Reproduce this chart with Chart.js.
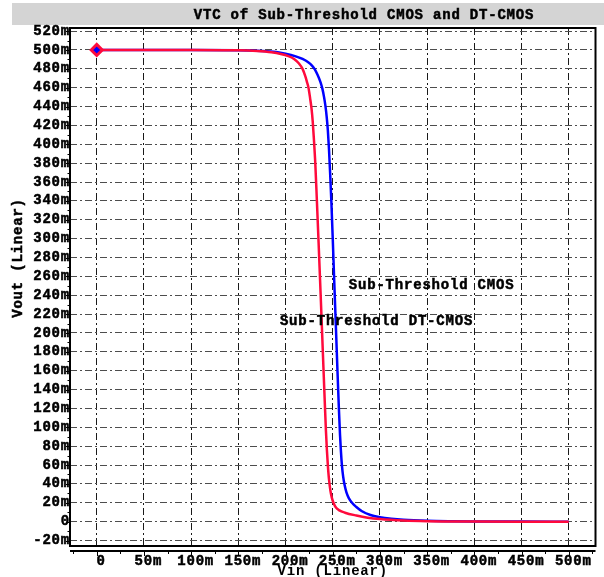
<!DOCTYPE html>
<html>
<head>
<meta charset="utf-8">
<script src="https://cdn.jsdelivr.net/npm/chart.js@4/dist/chart.umd.min.js"></script>
<style>
  html, body { margin: 0; padding: 0; background: #fff; }
  canvas { display: block; }
</style>
</head>
<body>
<canvas id="vtc" width="604" height="577"></canvas>
<script>
// Text drawn on the chart
const titleText = 'VTC of Sub-Threshold CMOS and DT-CMOS';
const xAxisTitle = 'Vin (Linear)';
const yAxisTitle = 'Vout (Linear)';
const labelCmos = 'Sub-Threshold CMOS';
const labelDtCmos = 'Sub-Threshold DT-CMOS';

// Axis ticks (values in mV)
const xTickValues = [0, 50, 100, 150, 200, 250, 300, 350, 400, 450, 500];
const xTickLabels = ['0', '50m', '100m', '150m', '200m', '250m', '300m', '350m', '400m', '450m', '500m'];
const yTickValues = [-20, 0, 20, 40, 60, 80, 100, 120, 140, 160, 180, 200, 220, 240, 260,
                     280, 300, 320, 340, 360, 380, 400, 420, 440, 460, 480, 500, 520];
const yTickLabels = ['-20m', '0', '20m', '40m', '60m', '80m', '100m', '120m', '140m', '160m', '180m',
                     '200m', '220m', '240m', '260m', '280m', '300m', '320m', '340m', '360m', '380m',
                     '400m', '420m', '440m', '460m', '480m', '500m', '520m'];

// Sub-Threshold DT-CMOS inverter: Vin (mV) -> Vout (mV)
const vinDt = [0, 50, 100, 150, 170, 185, 195, 203, 209, 214, 218, 221, 223, 224.3, 226, 227.5,
               228.8, 230, 231.5, 233, 235, 237.2, 239.5, 241.5, 242.8, 243.8, 244.8, 246, 247.5,
               249, 251, 253, 257, 263, 275, 287, 300, 325, 350, 400, 450, 500];
const voutDt = [500, 500, 500, 499.6, 498.8, 497.5, 495.8, 493.5, 490.5, 486, 480, 472, 465, 460, 449, 438,
                424, 406, 380, 345, 296, 240, 180, 128, 96, 76, 60, 45, 33,
                25.5, 19.5, 15.5, 12, 9.5, 6.5, 4.2, 2.7, 1.1, 0.4, 0.1, 0, 0];

// Sub-Threshold CMOS inverter: Vin (mV) -> Vout (mV)
const vinCmos = [0, 50, 100, 150, 175, 190, 200, 210, 218, 224, 228, 231, 234, 237, 239, 240.8,
                 242.2, 243.5, 244.8, 246, 247.2, 248.5, 250, 251.5, 253.2, 255, 256.5, 257.7, 258.7,
                 259.7, 261, 262.5, 264.5, 267, 270.4, 275, 281, 290, 300, 312, 325, 350, 375, 400,
                 450, 500];
const voutCmos = [500, 500, 500, 499.8, 499, 497.8, 496, 493.5, 490.5, 487, 483.5, 479.5, 473.5, 466, 459, 450,
                  441, 430, 415, 395, 370, 340, 300, 257, 210, 160, 120, 92, 74,
                  60, 48, 39, 31, 25, 20, 15.5, 11, 7, 4.8, 3.2, 2.1, 1, 0.5, 0.25,
                  0.1, 0];

const FONT_FAMILY = '"Liberation Mono", "Courier New", monospace';
const FONT_SIZE = 14;
const SPACING = '0.8px';
const INK = '#000';

const toPoints = (xs, ys) => xs.map((v, i) => ({ x: v, y: ys[i] }));

// Bold text with a thin outline so strokes read heavier
function heavyText(ctx, text, x, y) {
  ctx.fillText(text, x, y);
  ctx.strokeText(text, x, y);
}

// Title band, plot frame, axis rulers, rotated y title and curve labels
const decorations = {
  id: 'decorations',
  beforeDraw(chart) {
    const { ctx, width, height } = chart;
    ctx.save();
    ctx.fillStyle = '#ffffff';
    ctx.fillRect(0, 0, width, height);
    ctx.fillStyle = '#d4d4d4';
    ctx.fillRect(12, 3, width - 12, 22);
    ctx.fillStyle = INK;
    ctx.strokeStyle = INK;
    ctx.lineWidth = 0.5;
    ctx.font = 'bold ' + FONT_SIZE + 'px ' + FONT_FAMILY;
    ctx.letterSpacing = SPACING;
    ctx.textAlign = 'center';
    ctx.textBaseline = 'middle';
    heavyText(ctx, titleText, 364, 15);
    ctx.restore();
    ctx.letterSpacing = SPACING;
  },
  afterDraw(chart) {
    const { ctx, chartArea: a, scales: { x, y } } = chart;
    ctx.save();
    ctx.letterSpacing = SPACING;

    // frame around the plot area
    ctx.strokeStyle = INK;
    ctx.lineWidth = 2;
    ctx.strokeRect(a.left, a.top, a.right - a.left, a.bottom - a.top);

    // y-axis major / minor tick marks
    ctx.lineWidth = 1;
    ctx.beginPath();
    for (let v = -20; v <= 520; v += 10) {
      const py = Math.round(y.getPixelForValue(v)) + 0.5;
      const len = v % 20 === 0 ? 4 : 2.5;
      ctx.moveTo(a.left - len, py);
      ctx.lineTo(a.left, py);
    }
    ctx.stroke();

    // x-axis ruler below the frame
    const ry = a.bottom + 5;
    ctx.lineWidth = 2;
    ctx.beginPath();
    ctx.moveTo(a.left, ry);
    ctx.lineTo(a.right, ry);
    ctx.stroke();
    ctx.lineWidth = 1;
    ctx.beginPath();
    for (let v = -25; v <= 525; v += 25) {
      const px = Math.round(x.getPixelForValue(v)) + 0.5;
      const len = v % 50 === 0 ? 5 : 3;
      ctx.moveTo(px, ry);
      ctx.lineTo(px, ry + len);
    }
    ctx.stroke();

    // rotated y-axis title
    ctx.fillStyle = INK;
    ctx.strokeStyle = INK;
    ctx.lineWidth = 0.5;
    ctx.font = 'bold ' + FONT_SIZE + 'px ' + FONT_FAMILY;
    ctx.textAlign = 'center';
    ctx.textBaseline = 'middle';
    ctx.save();
    ctx.translate(18, 258);
    ctx.rotate(-Math.PI / 2);
    heavyText(ctx, yAxisTitle, 0, 0);
    ctx.restore();

    // curve labels
    ctx.textAlign = 'left';
    heavyText(ctx, labelCmos, x.getPixelForValue(267), y.getPixelForValue(250));
    heavyText(ctx, labelDtCmos, x.getPixelForValue(194), y.getPixelForValue(212));
    ctx.restore();
  }
};

const tickFont = { family: FONT_FAMILY, size: FONT_SIZE, weight: 'bold' };

new Chart(document.getElementById('vtc'), {
  type: 'line',
  data: {
    datasets: [
      {
        label: labelDtCmos,
        data: toPoints(vinDt, voutDt),
        borderColor: '#ff0a3c',
        borderWidth: 2.5,
        cubicInterpolationMode: 'monotone',
        fill: false,
        pointStyle: 'rectRot',
        pointRadius: ctx => (ctx.dataIndex === 0 ? 5.5 : 0),
        pointBackgroundColor: '#0000ff',
        pointBorderColor: '#ff0a3c',
        pointBorderWidth: 3
      },
      {
        label: labelCmos,
        data: toPoints(vinCmos, voutCmos),
        borderColor: '#0000ff',
        borderWidth: 2.5,
        cubicInterpolationMode: 'monotone',
        fill: false,
        pointRadius: 0
      }
    ]
  },
  options: {
    responsive: false,
    animation: false,
    events: [],
    layout: { padding: { top: 28, right: 3, left: 0, bottom: 0 } },
    plugins: {
      legend: { display: false },
      title: { display: false },
      tooltip: { enabled: false }
    },
    scales: {
      x: {
        type: 'linear',
        min: -28.3,
        max: 528.3,
        afterBuildTicks: s => { s.ticks = xTickValues.map(v => ({ value: v })); },
        afterFit: s => { s.height = 31; },
        ticks: {
          callback: (v, i) => xTickLabels[i],
          font: tickFont,
          color: INK,
          textStrokeColor: INK,
          textStrokeWidth: 0.5,
          padding: 7,
          labelOffset: 4.5,
          maxRotation: 0,
          autoSkip: false
        },
        grid: { color: '#1a1a1a', lineWidth: 1, drawTicks: false },
        border: { display: false, dash: [7, 3, 2, 3] },
        title: {
          display: true,
          text: xAxisTitle,
          color: INK,
          font: { family: FONT_FAMILY, size: FONT_SIZE, weight: 'bold', lineHeight: 1 },
          padding: { top: 0, bottom: -1 }
        }
      },
      y: {
        type: 'linear',
        min: -25.8,
        max: 523.3,
        afterBuildTicks: s => { s.ticks = yTickValues.map(v => ({ value: v })); },
        afterFit: s => { s.width = 70; },
        ticks: {
          callback: (v, i) => yTickLabels[i],
          font: tickFont,
          color: INK,
          textStrokeColor: INK,
          textStrokeWidth: 0.5,
          padding: 0,
          autoSkip: false
        },
        grid: { color: '#4d4d4d', lineWidth: 1, drawTicks: false },
        border: { display: false, dash: [7, 3, 2, 3] }
      }
    }
  },
  plugins: [decorations]
});
</script>
</body>
</html>
